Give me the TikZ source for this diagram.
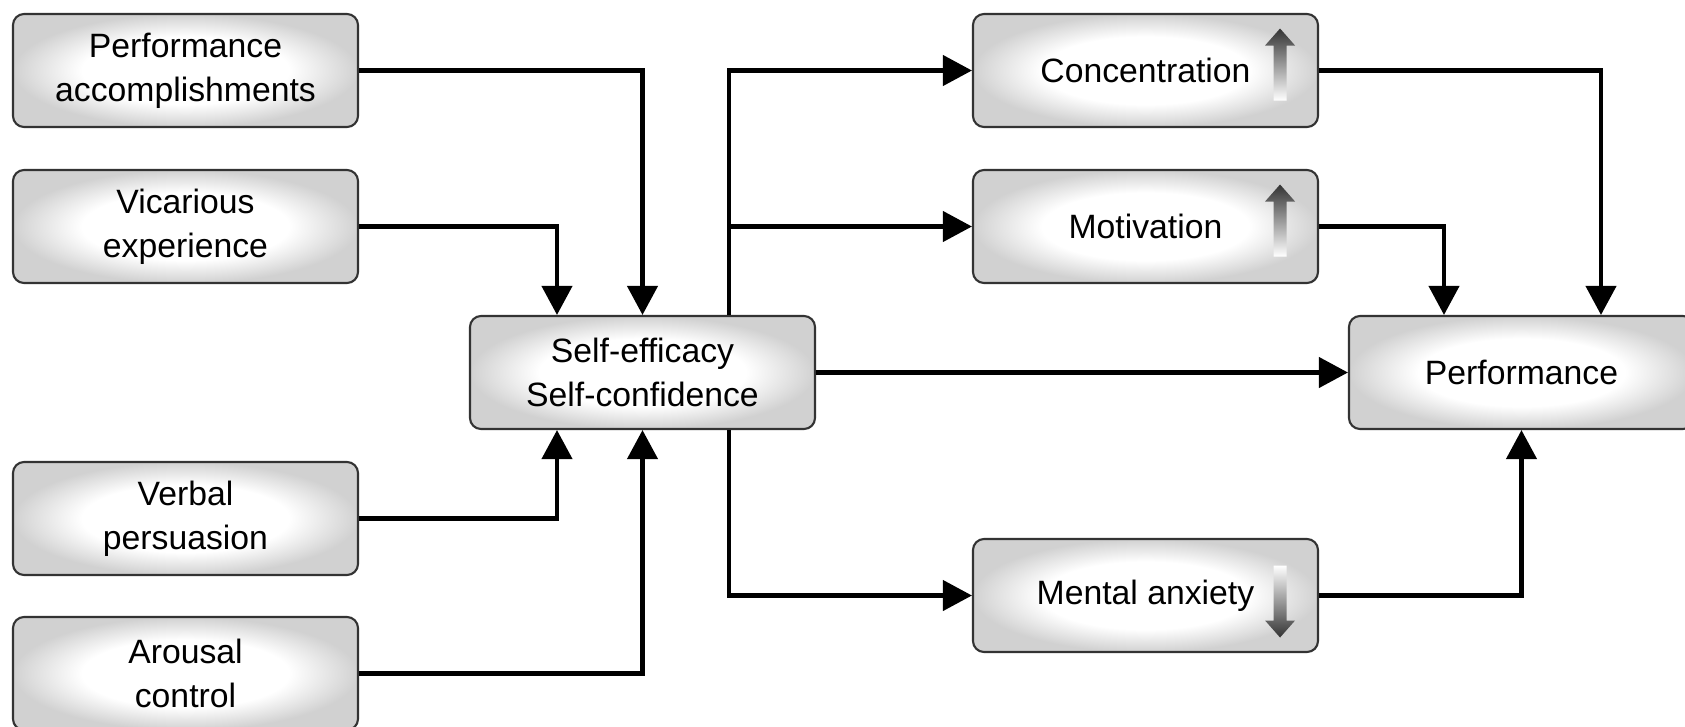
\documentclass[tikz,border=0pt]{standalone}
\usepackage{fontspec}
\setmainfont{Liberation Sans}
\usetikzlibrary{arrows.meta}
\pgfdeclareradialshading{boxshade}{\pgfpoint{0bp}{0bp}}{color(0bp)=(white); color(15bp)=(white); color(25bp)=(black!18); color(50bp)=(black!18)}
\tikzset{
  box/.style={draw=black!80, line width=0.6pt, rounded corners=1.1mm, shade, shading=boxshade,
    minimum width=3.45cm, minimum height=1.13cm, inner sep=0pt, align=center,
    font=\fontsize{9.6}{12.4}\selectfont},
  link/.style={line width=1.2pt, ->}
}
\newcommand{\trendup}[1]{\shade[top color=black!80, bottom color=white]
  ([shift={(-0.39,0.42)}]#1.east) -- ++(0.15,-0.17) -- ++(-0.085,0) -- ++(0,-0.55)
  -- ++(-0.13,0) -- ++(0,0.55) -- ++(-0.085,0) -- cycle;}
\newcommand{\trenddown}[1]{\shade[top color=white, bottom color=black!80]
  ([shift={(-0.39,-0.42)}]#1.east) -- ++(0.15,0.17) -- ++(-0.085,0) -- ++(0,0.55)
  -- ++(-0.13,0) -- ++(0,-0.55) -- ++(-0.085,0) -- cycle;}
\begin{document}
\begin{tikzpicture}[>={Triangle[length=2.9mm,width=3mm]}]
\useasboundingbox (0,0) rectangle (16.85,7.26);
\node[box](pa) at (1.855,6.555) {Performance\\accomplishments};
\node[box](ve) at (1.855,4.995) {Vicarious\\experience};
\node[box](vp) at (1.855,2.075) {Verbal\\persuasion};
\node[box](ac) at (1.855,0.525) {Arousal\\control};
\node[box](se) at (6.425,3.535) {Self-efficacy\\Self-confidence};
\node[box](conc) at (11.455,6.555) {Concentration};
\node[box](moti) at (11.455,4.995) {Motivation};
\node[box](anx) at (11.455,1.305) {Mental anxiety};
\node[box](perf) at (15.215,3.535) {Performance};
%
\trendup{conc}
\trendup{moti}
\trenddown{anx}
%
\draw[link](pa) -| (se);
\draw[link](ve) -| ([xshift=-0.855cm]se.north);
\draw[link](vp) -| ([xshift=-0.855cm]se.south);
\draw[link](ac) -| (se);
\draw[link](se) -- (perf);
\draw[link]([xshift=0.865cm]se.north) |- (conc);
\draw[link]([xshift=0.865cm]se.north) |- (moti);
\draw[link]([xshift=0.865cm]se.south) |- (anx);
\draw[link](conc) -| ([xshift=0.795cm]perf.north);
\draw[link](moti) -| ([xshift=-0.775cm]perf.north);
\draw[link](anx) -| (perf);
\end{tikzpicture}
\end{document}
